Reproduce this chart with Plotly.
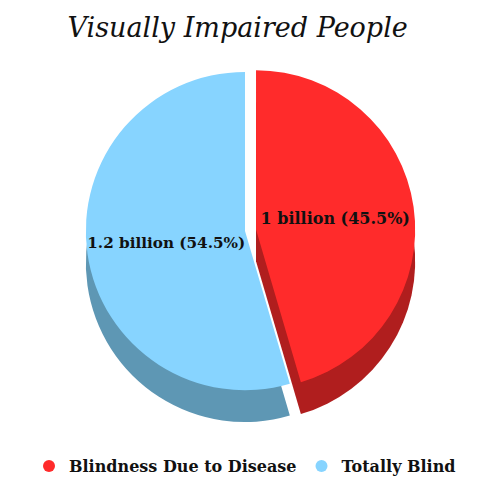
import plotly.graph_objects as go

# Data
labels = ["Blindness Due to Disease", "Totally Blind"]
values = [1.0, 1.2]
value_text = ["1 billion", "1.2 billion"]
top_colors = ["#FF2B2B", "#87D4FF"]
side_colors = ["#B01E1E", "#5E97B4"]
pulls = [0.07, 0.0]

title_text = "Visually Impaired People"
serif = "DejaVu Serif"

fig = go.Figure()

# depth (side) layer of the pie, shifted down
fig.add_trace(go.Pie(
    labels=labels, values=values, sort=False, direction="clockwise",
    rotation=0, pull=pulls,
    marker=dict(colors=side_colors, line=dict(width=0)),
    textinfo="none", hoverinfo="skip", showlegend=False,
    domain=dict(x=[0, 1], y=[0.0994, 0.8075]),
))

# top face of the pie
fig.add_trace(go.Pie(
    labels=labels, values=values, sort=False, direction="clockwise",
    rotation=0, pull=pulls, customdata=value_text,
    marker=dict(colors=top_colors, line=dict(width=0)),
    texttemplate="<b>%{customdata} (%{percent:.1%})</b>",
    textposition="inside", insidetextorientation="horizontal",
    textfont=dict(family=serif, size=16, color="#111111"),
    showlegend=False,
    domain=dict(x=[0, 1], y=[0.1656, 0.8737]),
))

# legend entries with round markers
for lab, col in zip(labels, top_colors):
    fig.add_trace(go.Scatter(
        x=[None], y=[None], mode="markers", name="<b>" + lab + "</b>",
        marker=dict(color=col, size=18, symbol="circle"),
    ))

fig.update_layout(
    width=490, height=483,
    margin=dict(l=0, r=0, t=0, b=0),
    paper_bgcolor="white", plot_bgcolor="white",
    title=dict(text="<i>" + title_text + "</i>", x=0.485, xanchor="center",
               y=1 - 28 / 483, yref="container", yanchor="middle",
               font=dict(family=serif, size=27, color="#111111")),
    xaxis=dict(visible=False), yaxis=dict(visible=False),
    legend=dict(orientation="h", x=0.5, xanchor="center",
                y=1 - 468 / 483, yanchor="middle",
                font=dict(family=serif, size=16, color="#111111"),
                itemsizing="constant", entrywidthmode="pixels",
                bgcolor="rgba(0,0,0,0)"),
)

fig.write_html("out.html")
